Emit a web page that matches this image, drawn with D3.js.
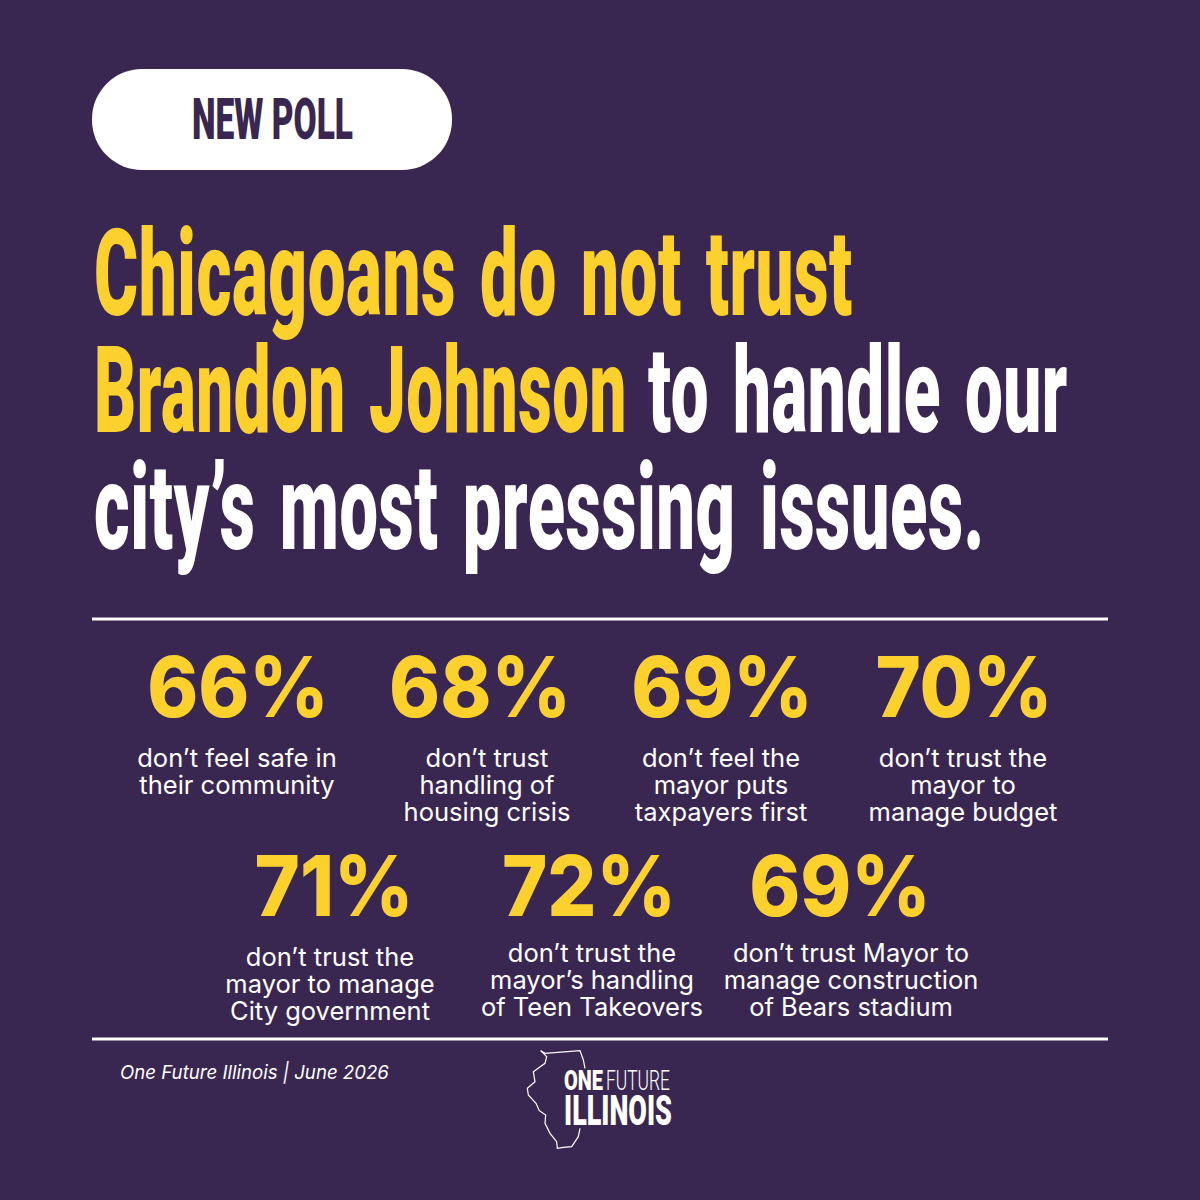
<!DOCTYPE html>
<html><head><meta charset="utf-8"><script src="https://cdn.jsdelivr.net/npm/d3@7"></script>
<style>html,body{margin:0;padding:0;background:#3a2751}svg{display:block}</style></head><body>
<svg id="c" width="1200" height="1200"></svg>
<script>
const row1Values=[66,68,69,70];
const row2Values=[71,72,69];
const row1Labels=[["don’t feel safe in","their community"],["don’t trust","handling of","housing crisis"],["don’t feel the","mayor puts","taxpayers first"],["don’t trust the","mayor to","manage budget"]];
const row2Labels=[["don’t trust the","mayor to manage","City government"],["don’t trust the","mayor’s handling","of Teen Takeovers"],["don’t trust Mayor to","manage construction","of Bears stadium"]];
const gold="#fcd02d",bg="#3a2751";
const cond="Roboto,'Liberation Sans',sans-serif";
const sans="Inter,'Noto Sans',sans-serif";
const svg=d3.select("#c");
svg.append("rect").attr("width",1200).attr("height",1200).attr("fill",bg);
svg.append("rect").attr("x",92).attr("y",69).attr("width",360).attr("height",101).attr("rx",50).attr("fill","#fff");
function fit(str,x0,x1,y,size,weight,fill,family,extra){
  const t=svg.append("text").attr("font-family",family).attr("font-weight",weight).attr("font-size",size).attr("fill",fill).text(str);
  if(extra)extra(t);
  const w=t.node().getComputedTextLength();
  t.attr("transform",`translate(${x0},${y}) scale(${(x1-x0)/w},1)`);
  return t;
}
fit("NEW POLL",192,353,139,57,900,bg,cond);
const hs=121;
const wide=t=>t.attr("word-spacing",12).attr("letter-spacing",1);
fit("Chicagoans do not trust",94,853,315,hs,900,gold,cond,wide);
fit("Brandon Johnson",94,627,432,hs,900,gold,cond,wide);
fit("to handle our",648,1068,432,hs,900,"#fff",cond,wide);
fit("city’s most pressing issues.",94,985,549,hs,900,"#fff",cond,wide);
[619,1039].forEach(y=>svg.append("line").attr("x1",92).attr("x2",1108).attr("y1",y).attr("y2",y).attr("stroke","#fff").attr("stroke-width",3));
function row(vals,labels,numX,labX,yv,yls){vals.forEach((v,i)=>{
 svg.append("text").attr("text-anchor","middle").attr("transform",`translate(${numX(i)},${yv}) scale(0.92,1)`).attr("font-family",sans).attr("font-weight",800).attr("font-size",84).attr("fill",gold).text(v+"%");
 labels[i].forEach((s,j)=>svg.append("text").attr("x",labX(i)).attr("y",yls[i]+j*27).attr("text-anchor","middle").attr("font-family",sans).attr("font-size",25.5).attr("fill","#fff").text(s));
});}
const seq=a=>d3.scaleOrdinal().domain(d3.range(a.length)).range(a);
row(row1Values,row1Labels,seq([238,480,722,964]),seq([237,487,721,963]),717,[767,767,767,767]);
row(row2Values,row2Labels,seq([334,589,840]),seq([330,592,851]),916,[966,962,962]);
fit("One Future Illinois | June 2026",120,389,1079,19,400,"#fff",sans,t=>t.attr("font-style","italic"));
fit("ONE",564,603,1090,28,900,"#fff",cond);
fit("FUTURE",606,670,1090,28,300,"#fff",cond);
fit("ILLINOIS",564,672,1125,42,900,"#fff",cond);
const outline=[[122,32],[135,40],[240,32],[250,60],[255,85]];
const outline2=[[240,265],[235,290],[215,320],[190,322],[172,325],[170,305],[150,280],[135,250],[137,225],[118,212],[108,190],[85,165],[82,145],[105,125],[100,95],[135,70],[140,50],[122,32]];
const lz=d3.line().x(d=>500+d[0]/3).y(d=>1040+d[1]/3);
[outline,outline2].forEach(o=>svg.append("path").attr("d",lz(o)).attr("fill","none").attr("stroke","#fff").attr("stroke-width",1.2));
</script></body></html>
